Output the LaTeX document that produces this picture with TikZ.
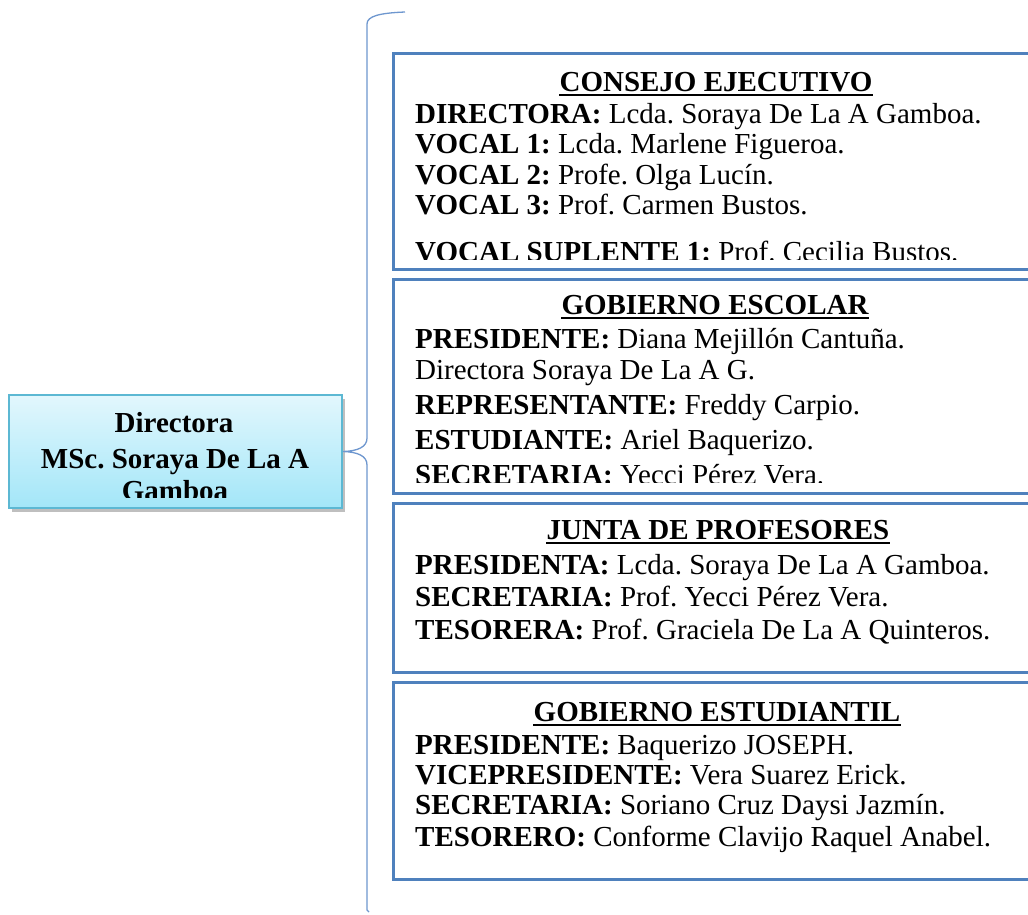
\documentclass[tikz,border=0pt]{standalone}
\usepackage{fontspec}
\setmainfont{Liberation Serif}
\newfontfamily\dirfont{Liberation Serif}
\frenchspacing
\usetikzlibrary{shadows}
\definecolor{boxblue}{HTML}{4F81BD}
\definecolor{bracec}{HTML}{6E97CF}
\definecolor{dirtop}{HTML}{E2F7FD}
\definecolor{dirbot}{HTML}{A3E6F8}
\definecolor{dirline}{HTML}{5CB8D3}
\begin{document}
\begin{tikzpicture}[x=1pt,y=-1pt,
  panel/.style={draw=boxblue,line width=2.6pt,anchor=north west,inner sep=0pt,minimum width=680pt},
  ln/.style={anchor=base west,inner sep=0pt,font=\fontsize{29}{34}\selectfont},
  ttl/.style={anchor=base,inner sep=0pt,font=\fontsize{29}{34}\selectfont\bfseries},
  dl/.style={anchor=base,inner sep=0pt,font=\dirfont\fontsize{29}{34}\selectfont\bfseries},
  uline/.style={line width=2pt},
  brace/.style={draw=bracec,line width=1.3pt}
]
\clip (0,0) rectangle (1028,914);
\fill[white] (0,0) rectangle (1028,914);

% left box
\node[draw=dirline,line width=2pt,top color=dirtop,bottom color=dirbot,
      minimum width=333pt,minimum height=113pt,inner sep=0pt,
      drop shadow={opacity=0.5,shadow xshift=3pt,shadow yshift=-4pt}] (dir) at (175.5,451.5) {};
\begin{scope}
\clip (9,395) rectangle (342,497);
\node[dl] (d1) at (174,432) {Directora};
\node[dl] (d2) at (175,468) {MSc. Soraya De La A};
\node[dl] (d3) at (175,500) {Gamboa};
\end{scope}

% brace
\draw[brace] (405,12) .. controls (380,13) and (367,16) .. (367,24) -- (367,438)
  .. controls (367,447) and (358,451) .. (dir.east)
  .. controls (358,452) and (367,456) .. (367,465) -- (367,910) -- (369,912);

% panels
\node[panel,minimum height=216pt] (p1) at (392,52) {};
\node[panel,minimum height=214pt] (p2) at (392,278) {};
\node[panel,minimum height=169pt] (p3) at (392,502) {};
\node[panel,minimum height=197pt] (p4) at (392,681) {};

% panel 1
\begin{scope}
\clip (392,52) rectangle (1028,259);
\node[ttl] (t1) at (716,91) {CONSEJO EJECUTIVO};
\node[ln] (a1) at (415,123) {\textbf{DIRECTORA:} Lcda. Soraya De La A Gamboa.};
\node[ln] (a2) at (415,153) {\textbf{VOCAL 1:} Lcda. Marlene Figueroa.};
\node[ln] (a3) at (415,184) {\textbf{VOCAL 2:} Profe. Olga Lucín.};
\node[ln] (a4) at (415,214) {\textbf{VOCAL 3:} Prof. Carmen Bustos.};
\node[ln] (a5) at (415,261) {\textbf{VOCAL SUPLENTE 1:} Prof. Cecilia Bustos.};
\end{scope}
\draw[uline] ([yshift=-4pt]t1.base west) -- ([yshift=-4pt]t1.base east);

% panel 2
\begin{scope}
\clip (392,278) rectangle (1028,482);
\node[ttl] (t2) at (715,314) {GOBIERNO ESCOLAR};
\node[ln] (b1) at (415,348) {\textbf{PRESIDENTE:} Diana Mejillón Cantuña.};
\node[ln] (b2) at (415,379) {Directora Soraya De La A G.};
\node[ln] (b3) at (415,414) {\textbf{REPRESENTANTE:} Freddy Carpio.};
\node[ln] (b4) at (415,449) {\textbf{ESTUDIANTE:} Ariel Baquerizo.};
\node[ln] (b5) at (415,484) {\textbf{SECRETARIA:} Yecci Pérez Vera.};
\end{scope}
\draw[uline] ([yshift=-4pt]t2.base west) -- ([yshift=-4pt]t2.base east);

% panel 3
\node[ttl] (t3) at (718,539) {JUNTA DE PROFESORES};
\draw[uline] ([yshift=-4pt]t3.base west) -- ([yshift=-4pt]t3.base east);
\node[ln] (c1) at (415,574) {\textbf{PRESIDENTA:} Lcda. Soraya De La A Gamboa.};
\node[ln] (c2) at (415,606) {\textbf{SECRETARIA:} Prof. Yecci Pérez Vera.};
\node[ln] (c3) at (415,639) {\textbf{TESORERA:} Prof. Graciela De La A Quinteros.};

% panel 4
\node[ttl] (t4) at (717,721) {GOBIERNO ESTUDIANTIL};
\draw[uline] ([yshift=-4pt]t4.base west) -- ([yshift=-4pt]t4.base east);
\node[ln] (e1) at (415,754) {\textbf{PRESIDENTE:} Baquerizo JOSEPH.};
\node[ln] (e2) at (415,784) {\textbf{VICEPRESIDENTE:} Vera Suarez Erick.};
\node[ln] (e3) at (415,814) {\textbf{SECRETARIA:} Soriano Cruz Daysi Jazmín.};
\node[ln] (e4) at (415,846) {\textbf{TESORERO:} Conforme Clavijo Raquel Anabel.};
\end{tikzpicture}
\end{document}
